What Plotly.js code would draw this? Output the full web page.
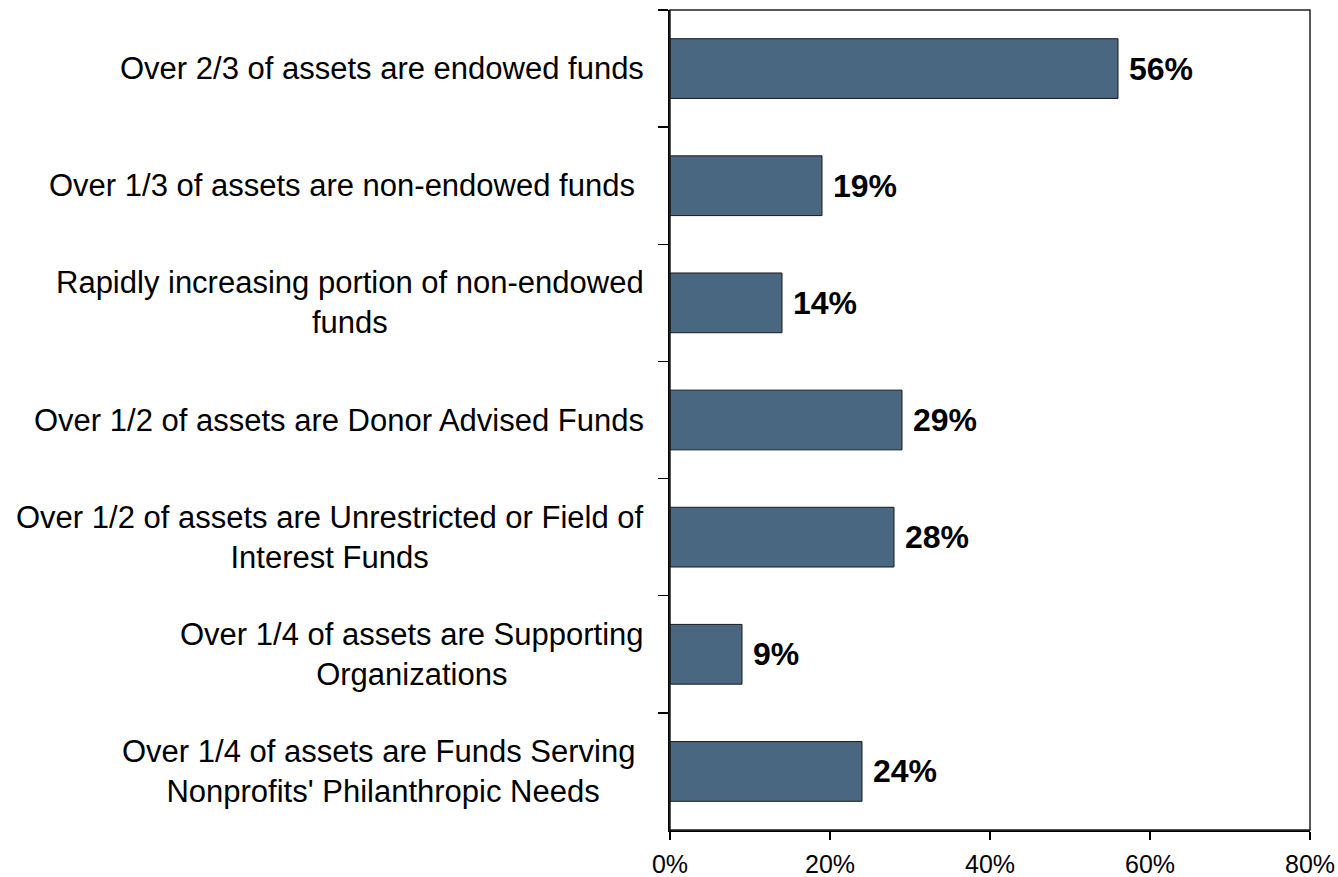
<!DOCTYPE html>
<html>
<head>
<meta charset="utf-8">
<script src="https://cdn.plot.ly/plotly-3.0.1.min.js"></script>
<style>html,body{margin:0;padding:0;background:#fff;}#chart{width:1338px;height:877px;}</style>
</head>
<body>
<div id="chart"></div>
<script>
const categories = [
  "Over 2/3 of assets are endowed funds",
  "Over 1/3 of assets are non-endowed funds ",
  "Rapidly increasing portion of non-endowed<br>funds",
  "Over 1/2 of assets are Donor Advised Funds",
  "Over 1/2 of assets are Unrestricted or Field of<br>Interest Funds",
  "Over 1/4 of assets are Supporting<br>Organizations",
  "Over 1/4 of assets are Funds Serving <br>Nonprofits' Philanthropic Needs"
];
const values = [56, 19, 14, 29, 28, 9, 24];
const xTickValues = [0, 20, 40, 60, 80];
const xTickLabels = ["0%", "20%", "40%", "60%", "80%"];

const FONT = "Arial, 'Liberation Sans', sans-serif";
const ids = categories.map((c, i) => "c" + i);

const trace = {
  type: "bar",
  orientation: "h",
  x: values,
  y: ids,
  marker: {color: "#4a6782", line: {color: "#1a1a1a", width: 1}},
  hoverinfo: "x"
};

const annotations = [];
categories.forEach((c, i) => {
  annotations.push({
    xref: "paper", yref: "y", x: 0, y: ids[i],
    xanchor: "right", yanchor: "middle", xshift: -24,
    text: c, align: "center", showarrow: false,
    font: {family: FONT, size: 31, color: "#000"}
  });
  annotations.push({
    xref: "x", yref: "y", x: values[i], y: ids[i],
    xanchor: "left", yanchor: "middle", xshift: 9,
    text: "<b>" + values[i] + "%</b>", showarrow: false,
    font: {family: FONT, size: 32, color: "#000"}
  });
});

const layout = {
  width: 1338, height: 877,
  margin: {l: 670, r: 28, t: 10, b: 47, pad: 0},
  paper_bgcolor: "#fff", plot_bgcolor: "#fff",
  showlegend: false,
  bargap: 0.49,
  font: {family: FONT, color: "#000"},
  xaxis: {
    range: [0, 80], tickvals: xTickValues, ticktext: xTickLabels,
    showgrid: false, zeroline: false,
    showline: true, linecolor: "#000", linewidth: 2,
    ticks: "outside", ticklen: 8, tickwidth: 2, tickcolor: "#000",
    ticklabelstandoff: 3,
    tickfont: {family: FONT, size: 25, color: "#000"}
  },
  yaxis: {
    type: "category", autorange: "reversed",
    showticklabels: false, showgrid: false, zeroline: false,
    showline: true, linecolor: "#000", linewidth: 2,
    ticks: "outside", tickson: "boundaries", ticklen: 10, tickwidth: 1.5, tickcolor: "#000"
  },
  shapes: [{
    type: "rect", xref: "paper", yref: "paper", x0: 0, x1: 1, y0: 0, y1: 1,
    line: {color: "#222", width: 1.5}, fillcolor: "rgba(0,0,0,0)", layer: "above"
  }],
  annotations: annotations
};

Plotly.newPlot("chart", [trace], layout, {displayModeBar: false, staticPlot: true});
</script>
</body>
</html>
